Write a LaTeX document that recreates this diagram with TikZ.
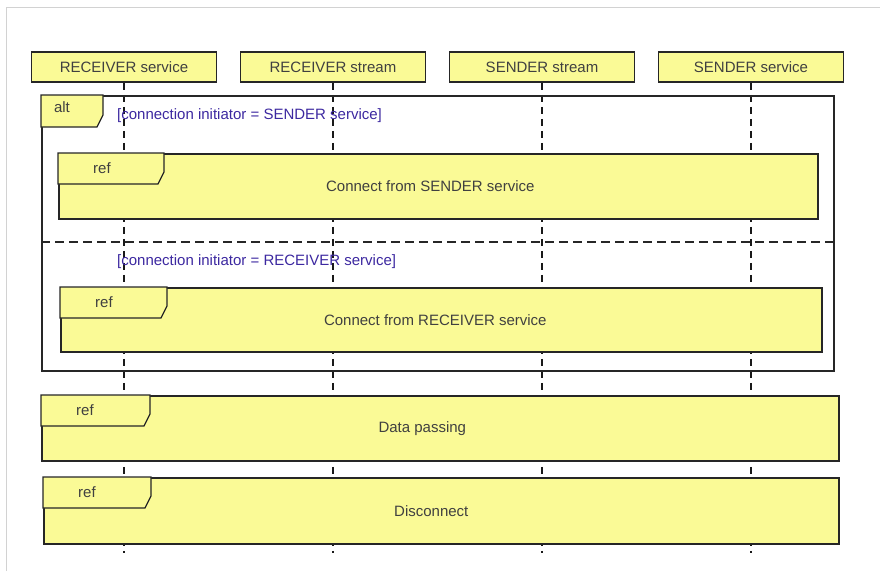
\documentclass[tikz,border=0pt]{standalone}
\usepackage{fontspec}
\setmainfont{Liberation Sans}
\usetikzlibrary{calc}
\definecolor{refyellow}{RGB}{250,250,150}
\definecolor{guardblue}{RGB}{60,40,160}

\begin{document}
\begin{tikzpicture}
  [x=1pt,y=-1pt,
   every node/.style={font=\fontsize{15}{18}\selectfont,text=black!75},
   lifehead/.style={draw=black!85,line width=1.6pt,fill=refyellow,minimum width=185pt,minimum height=30pt,inner sep=0pt},
   refbox/.style={draw=black!85,line width=1.6pt,fill=refyellow,anchor=north west,inner sep=0pt},
   tagshape/.style={draw=black!85,line width=1.2pt,fill=refyellow},
   lifeline/.style={black!90,line width=1.7pt,dash pattern=on 7pt off 5pt},
   guard/.style={text=guardblue,anchor=west,inner sep=0pt}]
  \useasboundingbox (0,0) rectangle (880,571);
  \draw[gray!35,line width=1pt] (6,571) -- (6,7) -- (880,7);

  \node[lifehead] (rsvc) at (124,67) {RECEIVER service};
  \node[lifehead] (rstr) at (333,67) {RECEIVER stream};
  \node[lifehead] (sstr) at (542,67) {SENDER stream};
  \node[lifehead] (ssvc) at (751,67) {SENDER service};

\foreach \n in {rsvc,rstr,sstr,ssvc}
    \draw[lifeline] (\n.south) -- ++(0,470);

  % alt frame with its two operands
  \node[draw=black!85,line width=1.6pt,minimum width=792pt,minimum height=275pt,anchor=north west,inner sep=0pt] (alt) at (41,95) {};
  \draw[tagshape] (alt.north west) -- ++(62,0) -- ++(0,20) -- ++(-6,12) -| (alt.north west) -- cycle;
  \node (altlbl) at ($(alt.north west)+(21,12)$) {alt};
  \draw[black!85,line width=1.6pt,dash pattern=on 9pt off 5pt] (alt.west |- 0,242) -- (alt.east |- 0,242);
  \node[guard] (g1) at (117,116) {[connection initiator = SENDER service]};
  \node[guard] (g2) at (117,262) {[connection initiator = RECEIVER service]};

\foreach \name/\x/\y/\w/\h/\tw/\dx/\txt in
{r1/58/153/759/65/106/-8/Connect from SENDER service,
 r2/60/287/761/64/107/-6/Connect from RECEIVER service,
 r3/41/395/797/65/109/-18/Data passing,
 r4/43/477/795/66/108/-10/Disconnect}
  {
    \node[refbox,minimum width=\w pt,minimum height=\h pt] (\name) at (\x,\y) {};
    \node (\name txt) at ($(\name.center)+(\dx,0)$) {\txt};
    \draw[tagshape] (\name.north west) -- ++(\tw,0) -- ++(0,19) -- ++(-6,12) -| (\name.north west) -- cycle;
    \node (\name lbl) at ($(\name.north west)+(44,15)$) {ref};
  }
\end{tikzpicture}
\end{document}
